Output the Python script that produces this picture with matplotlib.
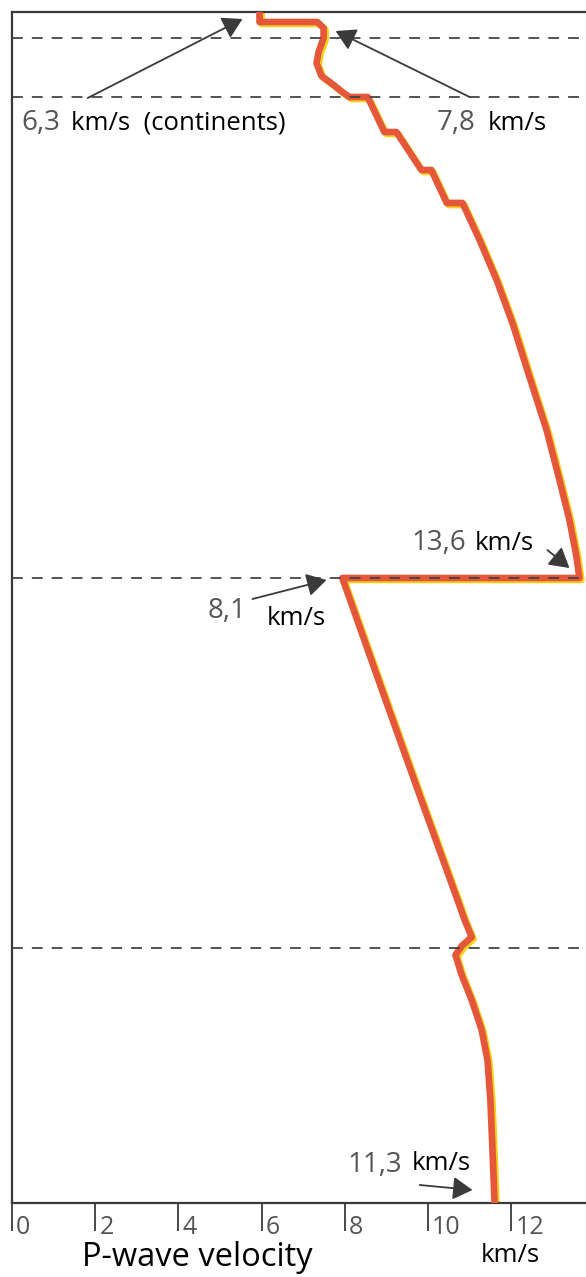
import matplotlib
matplotlib.use('Agg')
import matplotlib.pyplot as plt
import matplotlib.transforms as mtransforms

plt.rcParams['font.family'] = ['Open Sans', 'DejaVu Sans']

# P-wave velocity (km/s) against schematic depth (0 = surface, 1191 = centre)
velocity = [5.95, 5.95, 7.34, 7.49, 7.49, 7.37, 7.32, 7.44, 7.70, 7.94, 8.11, 8.55,
            8.95, 9.24, 9.84, 10.08, 10.45, 10.83,
            11.24, 11.65, 12.03, 12.44, 12.85, 13.16, 13.40, 13.57, 13.64, 7.94,
            8.98, 9.84, 10.71, 10.88, 11.05, 10.81, 10.66, 10.81, 11.05, 11.29,
            11.43, 11.50, 11.55, 11.60]
depth = [0, 10, 10, 16, 26, 40, 51, 64, 72, 80, 85, 85,
         120, 120, 158, 158, 191, 191,
         228, 268, 311, 365, 418, 468, 508, 545, 566, 566,
         688, 788, 888, 908, 925, 934, 943, 963, 988, 1018,
         1048, 1088, 1138, 1191]

boundaries = [26, 85, 566, 936]
xticks = [0, 2, 4, 6, 8, 10, 12]

# arrows: (tail velocity, tail depth, head velocity, head depth)
arrows = [
    (1.82, 86, 5.54, 7),
    (11.0, 85, 7.78, 19),
    (12.87, 538, 13.40, 556),
    (5.78, 587, 7.56, 568),
    (9.8, 1173, 11.07, 1178),
]

red = '#e5573b'
yellow = '#f2d21c'
dark = '#3a3a3a'
grey = '#555555'

fig = plt.figure(figsize=(5.86, 12.77), dpi=100)
ax = fig.add_axes([12/586, 1 - 1203/1277, 574/586, 1191/1277])
ax.set_xlim(0, 574/41.6)
ax.set_ylim(1191, 0)

shadow = mtransforms.offset_copy(ax.transData, fig=fig, x=2, y=-2, units='dots')
ax.plot(velocity, depth, color=yellow, lw=4.8, transform=shadow,
        solid_joinstyle='round', zorder=2)
ax.plot(velocity, depth, color=red, lw=4.8, solid_joinstyle='round', zorder=3)

for b in boundaries:
    ax.axhline(b, color='#444444', lw=1.3, dashes=(6, 5), zorder=4)

for s in ['top', 'bottom', 'left']:
    ax.spines[s].set_color(dark)
    ax.spines[s].set_linewidth(1.6)
ax.spines['right'].set_visible(False)

ax.set_yticks([])
ax.set_xticks(xticks)
ax.set_xticklabels([str(t) for t in xticks])
ax.tick_params(axis='x', direction='out', length=20, width=1.3, color=dark,
               labelsize=18, labelcolor=grey, pad=-11.5)
shift = mtransforms.ScaledTranslation(3/72, 0, fig.dpi_scale_trans)
for lab in ax.get_xticklabels():
    lab.set_horizontalalignment('left')
    lab.set_verticalalignment('top')
    lab.set_transform(lab.get_transform() + shift)

for tv, td, hv, hd in arrows:
    ax.annotate('', xy=(hv, hd), xytext=(tv, td),
                arrowprops=dict(arrowstyle='-|>,head_length=0.6,head_width=0.35',
                                color=dark, lw=1.3, mutation_scale=20,
                                shrinkA=0, shrinkB=0),
                zorder=5)

# label texts
ax.text(0.23, 111, '6,3', fontsize=20, color=grey, va='center')
ax.text(1.43, 111, 'km/s  (continents)', fontsize=18.5, color='black', va='center')
ax.text(10.2, 111, '7,8', fontsize=20, color=grey, va='center')
ax.text(11.43, 111, 'km/s', fontsize=18.5, color='black', va='center')
ax.text(9.6, 531, '13,6', fontsize=20, color=grey, va='center')
ax.text(11.12, 531, 'km/s', fontsize=18.5, color='black', va='center')
ax.text(4.70, 599, '8,1', fontsize=20, color=grey, va='center')
ax.text(6.13, 606, 'km/s', fontsize=18.5, color='black', va='center')
ax.text(8.06, 1153, '11,3', fontsize=20, color=grey, va='center')
ax.text(9.6, 1151, 'km/s', fontsize=18.5, color='black', va='center')

fig.text(82/586, 1 - 1257/1277, 'P-wave velocity', fontsize=23.5,
         color='black', va='center')
fig.text(481/586, 1 - 1255/1277, 'km/s', fontsize=18.5, color='black', va='center')

fig.savefig('out.png', dpi=100, facecolor='white')
